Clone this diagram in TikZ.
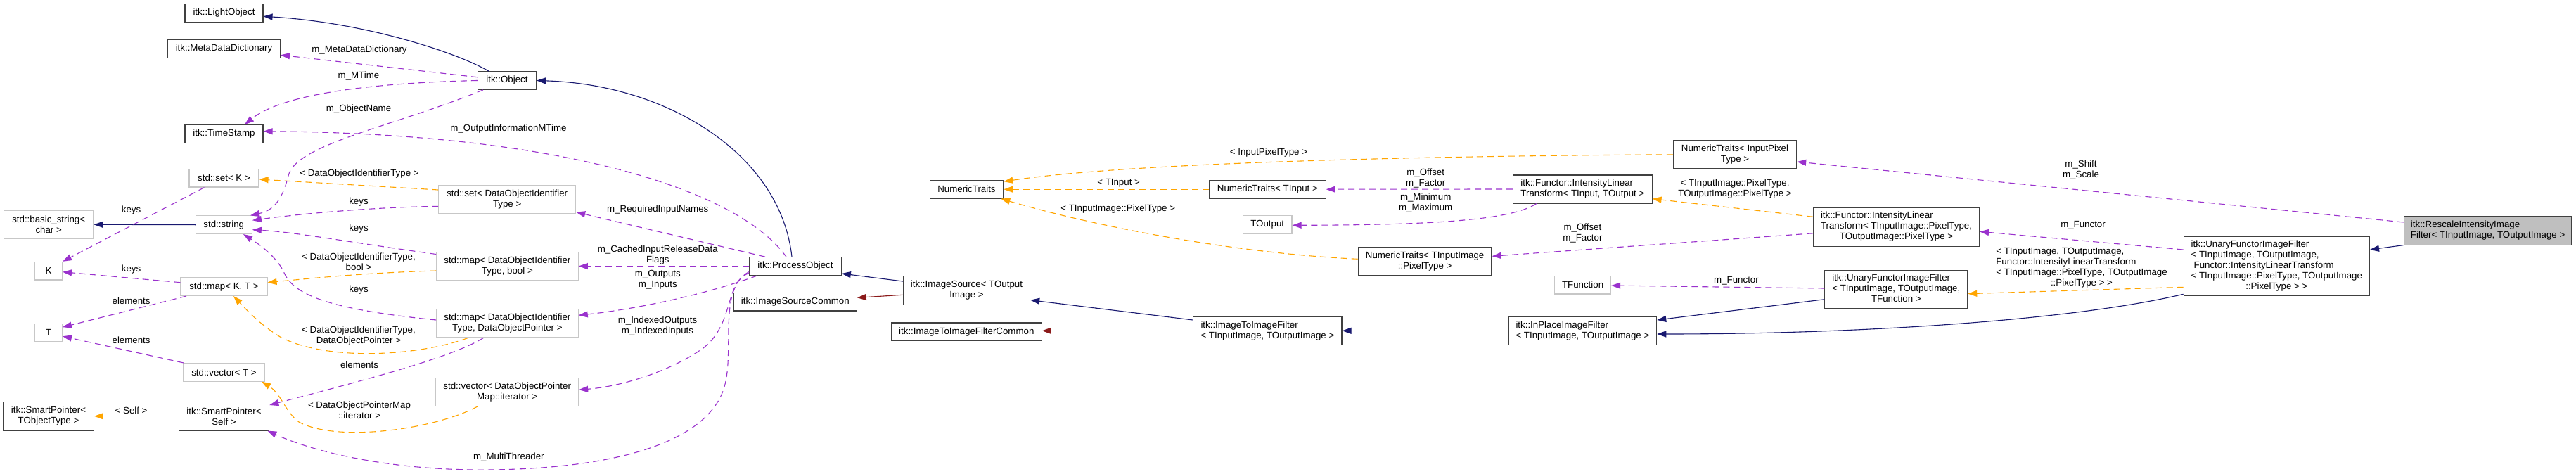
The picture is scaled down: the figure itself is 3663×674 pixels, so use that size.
\documentclass[tikz,border=0pt]{standalone}
\usepackage{fontspec}
\setmainfont{Liberation Sans}
\usetikzlibrary{arrows.meta}
\definecolor{dxnavy}{HTML}{191970}
\definecolor{dxred}{HTML}{8B1A1A}
\definecolor{dxpurp}{HTML}{9A32CD}
\definecolor{dxorng}{HTML}{FFA500}
\definecolor{dxgrey}{HTML}{BFBFBF}
\newcommand\dxf{\fontsize{13.3}{15}\selectfont}
\begin{document}
\begin{tikzpicture}[x=1pt,y=-1pt,
  box/.style={line width=1.1pt, fill=white, inner xsep=4pt, inner ysep=2pt, font=\dxf, align=center},
  blk/.style={box, draw=black!75},
  gry/.style={box, draw=black!22},
  lbl/.style={font=\dxf, align=center, inner sep=0pt},
  arrowhd/.style={-{Triangle[length=13pt,width=9pt]}},
  inh/.style={draw=dxnavy, line width=1.1pt, arrowhd},
  cmn/.style={draw=dxred, line width=1.1pt, arrowhd},
  mem/.style={draw=dxpurp, line width=1.1pt, dash pattern=on 9pt off 6pt, arrowhd},
  tpl/.style={draw=dxorng, line width=1.1pt, dash pattern=on 9pt off 6pt, arrowhd},
]
\fill[white] (0,0) rectangle (3663,674);
\useasboundingbox (0,0) rectangle (3663,674);

% ---------- nodes ----------
\node[blk, minimum width=111pt, minimum height=25.6pt] (lo) at (318.5,18.5) {itk::LightObject};
\node[blk, minimum width=160pt, minimum height=25.6pt] (mdd) at (318.5,69.3) {itk::MetaDataDictionary};
\node[blk, minimum width=111pt, minimum height=25.6pt] (ts) at (318.5,190.3) {itk::TimeStamp};
\node[gry, minimum width=99pt, minimum height=25.6pt] (setk) at (318.5,253.2) {std::set< K >};
\node[gry, minimum width=127.4pt, minimum height=40pt] (bstr) at (69.2,319.3) {std::basic\_string<\\char >};
\node[gry, minimum width=80pt, minimum height=25.6pt] (str) at (318.3,319.7) {std::string};
\node[gry, minimum width=39pt, minimum height=25.6pt] (nk) at (69,385.2) {K};
\node[gry, minimum width=123pt, minimum height=25.6pt] (mapkt) at (318.5,407.7) {std::map< K, T >};
\node[gry, minimum width=39pt, minimum height=25.6pt] (ntt) at (69,473.2) {T};
\node[gry, minimum width=116pt, minimum height=25.6pt] (vect) at (318.5,529.3) {std::vector< T >};
\node[blk, minimum width=128.5pt, minimum height=40.3pt] (spt) at (69,591.8) {itk::SmartPointer<\\TObjectType >};
\node[blk, minimum width=128.5pt, minimum height=40.3pt] (sps) at (318.5,591.8) {itk::SmartPointer<\\Self >};

\node[blk, minimum width=83pt, minimum height=25.6pt] (obj) at (721,114.5) {itk::Object};
\node[gry, minimum width=195pt, minimum height=40.3pt] (setd) at (721.2,283.8) {std::set< DataObjectIdentifier\\Type >};
\node[gry, minimum width=201.6pt, minimum height=40.3pt] (mapb) at (721.4,378.5) {std::map< DataObjectIdentifier\\Type, bool >};
\node[gry, minimum width=201.6pt, minimum height=40.3pt] (mapd) at (721.4,459.8) {std::map< DataObjectIdentifier\\Type, DataObjectPointer >};
\node[gry, minimum width=202.8pt, minimum height=40.3pt] (vecd) at (721.2,557.2) {std::vector< DataObjectPointer\\Map::iterator >};

\node[blk, minimum width=130.6pt, minimum height=25.6pt] (po) at (1131,378.5) {itk::ProcessObject};
\node[blk, minimum width=175pt, minimum height=25.6pt] (isc) at (1130.8,429.2) {itk::ImageSourceCommon};

\node[blk, minimum width=104.5pt, minimum height=25.6pt] (nt) at (1374.5,269.2) {NumericTraits};
\node[blk, minimum width=180.3pt, minimum height=40.3pt] (is) at (1374.5,413) {itk::ImageSource< TOutput\\Image >};
\node[blk, minimum width=213.8pt, minimum height=25.6pt] (i2ic) at (1374.3,471.8) {itk::ImageToImageFilterCommon};

\node[blk, minimum width=165.6pt, minimum height=25.6pt] (ntti) at (1802.4,269.2) {NumericTraits< TInput >};
\node[gry, minimum width=69.6pt, minimum height=25.6pt] (tout) at (1802.2,319.7) {TOutput};
\node[blk, minimum width=211.2pt, minimum height=40pt, align=left] (i2i) at (1802.4,470.3) {itk::ImageToImageFilter\\< TInputImage, TOutputImage >};

\node[blk, minimum width=189.7pt, minimum height=40pt] (ntpt) at (2026.1,371.7) {NumericTraits< TInputImage\\::PixelType >};
\node[blk, minimum width=197.3pt, minimum height=40pt, align=left] (il2) at (2250.4,269) {itk::Functor::IntensityLinear\\Transform< TInput, TOutput >};
\node[gry, minimum width=80pt, minimum height=25.6pt] (tfun) at (2250.6,405.2) {TFunction};
\node[blk, minimum width=210.7pt, minimum height=40pt, align=left] (ipf) at (2250.4,470.3) {itk::InPlaceImageFilter\\< TInputImage, TOutputImage >};

\node[blk, minimum width=175.3pt, minimum height=40.3pt] (ntipt) at (2467,219.8) {NumericTraits< InputPixel\\Type >};
\node[blk, minimum width=236pt, minimum height=55pt] (il3) at (2696.5,322.8) {\begin{tabular}{@{}l@{}}itk::Functor::IntensityLinear\\Transform< TInputImage::PixelType,\\\multicolumn{1}{@{}c@{}}{TOutputImage::PixelType >}\end{tabular}};
\node[blk, minimum width=202.8pt, minimum height=54.3pt] (uftf) at (2696.3,411.8) {\begin{tabular}{@{}l@{}}itk::UnaryFunctorImageFilter\\< TInputImage, TOutputImage,\\\multicolumn{1}{@{}c@{}}{TFunction >}\end{tabular}};

\node[blk, minimum width=264.3pt, minimum height=84pt] (ufil) at (3237.3,378.3) {\begin{tabular}{@{}l@{}}itk::UnaryFunctorImageFilter\\< TInputImage, TOutputImage,\\\hspace*{4pt}Functor::IntensityLinearTransform\\< TInputImage::PixelType, TOutputImage\\\multicolumn{1}{@{}c@{}}{::PixelType > >}\end{tabular}};
\node[box, draw=black!75, fill=dxgrey, minimum width=238.8pt, minimum height=40.7pt, align=left] (ris) at (3537.6,327.7) {itk::RescaleIntensityImage\\Filter< TInputImage, TOutputImage >};

% ---------- inheritance ----------
\draw[inh] ([xshift=-26pt]obj.north) .. controls (650,75) and (520,32) .. ([yshift=-4.8pt]lo.east);
\draw[inh] ([xshift=-5pt]po.north) .. controls (1110,220) and (950,120) .. (obj.east);
\draw[inh] (str.west) -- (bstr.east);
\draw[inh] ([yshift=13pt]is.west) -- ([yshift=-10.5pt]po.east);
\draw[cmn] ([yshift=-6.3pt]is.west) -- ([yshift=5.9pt]isc.east);
\draw[inh] ([yshift=15.3pt]i2i.west) -- ([yshift=-13.7pt]is.east);
\draw[cmn] (i2i.west) -- (i2i.west -| i2ic.east);
\draw[inh] (ipf.west) -- (i2i.east);
\draw[inh] ([yshift=-13.9pt]uftf.west) -- ([yshift=15.3pt]ipf.east);
\draw[inh] ([yshift=-40pt]ufil.west) .. controls (2950,455) and (2650,475) .. ([yshift=-4.7pt]ipf.east);
\draw[inh] (ris.south west) -- ([yshift=23.3pt]ufil.east);

% ---------- members ----------
\draw[mem] (obj) -- (mdd);
\draw[mem] (obj.west) .. controls (520,118) and (400,135) .. ([xshift=29.5pt]ts.north);
\draw[mem] ([xshift=-34pt]obj.south) .. controls (560,180) and (420,205) .. (410,250) .. controls (400,290) and (385,300) .. ([xshift=37.7pt]str.north);
\draw[mem] ([xshift=-13pt]po.north) .. controls (1050,270) and (800,190) .. ([yshift=3.6pt]ts.east);
\draw[mem] ([xshift=-43pt]po.north) -- ([yshift=-17.9pt]setd.east);
\draw[mem] (po.west) -- (mapb.east);
\draw[mem] ([xshift=-54pt]po.south) .. controls (1000,420) and (900,440) .. ([yshift=11.5pt]mapd.east);
\draw[mem] ([yshift=-10pt]po.west) .. controls (1030,400) and (1045,460) .. (1000,495) .. controls (950,530) and (880,550) .. ([yshift=3pt]vecd.east);
\draw[mem] ([yshift=-8pt]po.west) .. controls (1020,410) and (1045,500) .. (1030,550) .. controls (1010,620) and (900,665) .. (700,668) .. controls (550,670) and (440,640) .. ([xshift=-3pt]sps.south east);
\draw[mem] ([yshift=17pt]mapb.west) .. controls (500,345) and (420,330) .. ([yshift=-7pt]str.east);
\draw[mem] ([yshift=-9.5pt]setd.west) .. controls (520,295) and (420,305) .. ([yshift=6.4pt]str.east);
\draw[mem] ([yshift=4.8pt]mapd.west) .. controls (470,440) and (420,420) .. (405,390) .. controls (395,365) and (365,345) .. ([xshift=27.7pt]str.south);
\draw[mem] ([xshift=-34pt]mapd.south) .. controls (640,510) and (500,545) .. ([yshift=15.8pt]sps.east);
\draw[mem] ([xshift=-28pt]setk.south) -- (nk.north east);
\draw[mem] ([yshift=6pt]mapkt.west) -- ([yshift=-1.5pt]nk.east);
\draw[mem] ([xshift=-53.5pt]mapkt.south) -- ([yshift=8pt]ntt.east);
\draw[mem] ([xshift=-57.5pt]vect.north) -- ([yshift=-5pt]ntt.east);
\draw[mem] (il2.west) -- (ntti.east);
\draw[mem] ([xshift=-65.6pt]il2.south) .. controls (2150,312) and (2050,320) .. ([yshift=-0.6pt]tout.east);
\draw[mem] ([yshift=-9pt]il3.west) -- ([yshift=7.4pt]ntpt.east);
\draw[mem] ([yshift=1.8pt]uftf.west) -- ([yshift=-0.8pt]tfun.east);
\draw[mem] ([yshift=11.7pt]ris.west) -- ([yshift=-10.2pt]ntipt.east);
\draw[mem] ([yshift=23.3pt]ufil.west) -- ([yshift=-6.5pt]il3.east);

% ---------- template instances ----------
\draw[tpl] ([yshift=13.8pt]setd.west) -- ([yshift=-1.8pt]setk.east);
\draw[tpl] ([yshift=-6.5pt]mapb.west) .. controls (520,388) and (450,395) .. ([yshift=6pt]mapkt.east);
\draw[tpl] ([xshift=-56pt]mapd.south) .. controls (600,505) and (470,515) .. (400,480) .. controls (370,462) and (350,440) .. ([xshift=13.5pt]mapkt.south);
\draw[tpl] ([xshift=-42pt]vecd.south) .. controls (620,610) and (480,630) .. (425,600) .. controls (405,585) and (400,560) .. ([xshift=-5pt]vect.south east);
\draw[tpl] (sps.west) -- (spt.east);
\draw[tpl] (ntti.west) -- (nt.east);
\draw[tpl] (ntipt.west) .. controls (2000,222) and (1600,232) .. ([yshift=11pt]nt.east);
\draw[tpl] ([yshift=3.4pt]ntpt.west) .. controls (1750,360) and (1550,320) .. ([xshift=-4pt]nt.south east);
\draw[tpl] ([yshift=14.5pt]il3.west) -- ([yshift=-13.7pt]il2.east);
\draw[tpl] ([yshift=-30pt]ufil.west) -- ([yshift=-5.9pt]uftf.east);

% ---------- labels ----------
\node[lbl] (lb1) at (511,71) {m\_MetaDataDictionary};
\node[lbl] (lb2) at (510,108.3) {m\_MTime};
\node[lbl] (lb3) at (510,155.3) {m\_ObjectName};
\node[lbl] (lb4) at (723,183.3) {m\_OutputInformationMTime};
\node[lbl] (lb5) at (935.3,298.3) {m\_RequiredInputNames};
\node[lbl] (lb6) at (935.3,363) {m\_CachedInputReleaseData\\Flags};
\node[lbl] (lb7) at (935.3,397.7) {m\_Outputs\\m\_Inputs};
\node[lbl] (lb8) at (935,464) {m\_IndexedOutputs\\m\_IndexedInputs};
\node[lbl] (lb9) at (723.4,650) {m\_MultiThreader};
\node[lbl] (lb10) at (511,247.3) {< DataObjectIdentifierType >};
\node[lbl] (lb11) at (510,286.7) {keys};
\node[lbl] (lb12) at (510,325) {keys};
\node[lbl] (lb13) at (510,371.8) {< DataObjectIdentifierType,\\bool >};
\node[lbl] (lb14) at (510,411.7) {keys};
\node[lbl] (lb15) at (510,477.5) {< DataObjectIdentifierType,\\DataObjectPointer >};
\node[lbl] (lb16) at (511,518.3) {elements};
\node[lbl] (lb17) at (511,583.3) {< DataObjectPointerMap\\::iterator >};
\node[lbl] (lb18) at (186.6,299.3) {keys};
\node[lbl] (lb19) at (186.6,383.3) {keys};
\node[lbl] (lb20) at (186.6,427.7) {elements};
\node[lbl] (lb21) at (186.6,483.3) {elements};
\node[lbl] (lb22) at (186.6,583.3) {< Self >};
\node[lbl] (lb23) at (1804,216.7) {< InputPixelType >};
\node[lbl] (lb24) at (1590.6,260.7) {< TInput >};
\node[lbl] (lb25) at (1589.7,296.7) {< TInputImage::PixelType >};
\node[lbl] (lb26) at (2027.2,253.5) {m\_Offset\\m\_Factor};
\node[lbl] (lb27) at (2027.2,288.2) {m\_Minimum\\m\_Maximum};
\node[lbl] (lb28) at (2467,268.3) {< TInputImage::PixelType,\\TOutputImage::PixelType >};
\node[lbl] (lb29) at (2250.4,332) {m\_Offset\\m\_Factor};
\node[lbl] (lb30) at (2469,399) {m\_Functor};
\node[lbl] (lb31) at (2959,241.3) {m\_Shift\\m\_Scale};
\node[lbl] (lb32) at (2962,320.7) {m\_Functor};
\node[lbl] (lb33) at (2960,380.8) {\begin{tabular}{@{}l@{}}< TInputImage, TOutputImage,\\Functor::IntensityLinearTransform\\< TInputImage::PixelType, TOutputImage\\\multicolumn{1}{@{}c@{}}{::PixelType > >}\end{tabular}};
\end{tikzpicture}
\end{document}
